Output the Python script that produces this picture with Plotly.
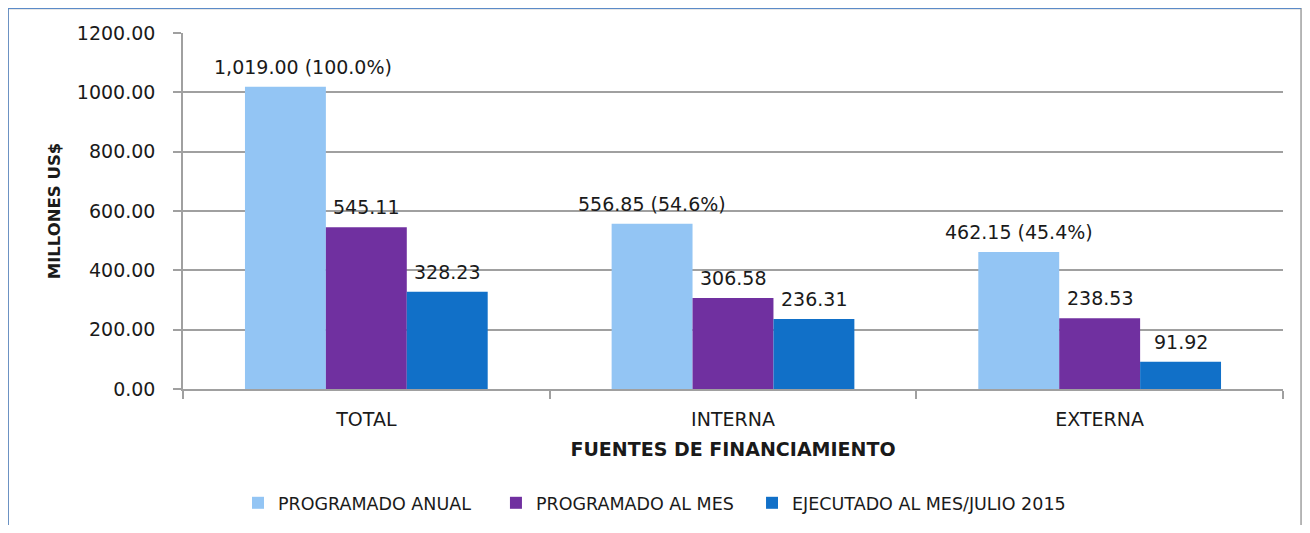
import plotly.graph_objects as go

categories = ["TOTAL", "INTERNA", "EXTERNA"]
series_names = ["PROGRAMADO ANUAL", "PROGRAMADO AL MES", "EJECUTADO AL MES/JULIO 2015"]
programado_anual = [1019.00, 556.85, 462.15]
programado_mes = [545.11, 306.58, 238.53]
ejecutado_mes = [328.23, 236.31, 91.92]
colors = ["#93C5F4", "#7030A0", "#1170C8"]
y_ticks = [0, 200, 400, 600, 800, 1000, 1200]

FONT = "DejaVu Sans"
series = [programado_anual, programado_mes, ejecutado_mes]
bargap = 0.338
legend_ids = ["legend", "legend2", "legend3"]
legend_x = [0.05, 0.2845, 0.5173]

fig = go.Figure()
for name, vals, col, lg in zip(series_names, series, colors, legend_ids):
    fig.add_trace(go.Bar(x=categories, y=vals, name=name, legend=lg,
                         marker=dict(color=col, line=dict(width=0))))

total = programado_anual[0]
w = (1 - bargap) / 3
annotations = []
for i, vals in enumerate(series):
    for j, v in enumerate(vals):
        if i == 0:
            txt = f"{v:,.2f} ({v / total * 100:.1f}%)"
        else:
            txt = f"{v:,.2f}"
        annotations.append(dict(
            x=j + (i - 1) * w, y=v, xref="x", yref="y", text=txt, showarrow=False,
            yanchor="bottom", xanchor="center", yshift=7,
            xshift=18 if (i == 0 and j == 0) else 0,
            font=dict(family=FONT, size=19, color="#1a1a1a")))

legend_common = dict(orientation="h", xanchor="left", y=-0.32, yanchor="middle",
                     font=dict(family=FONT, size=17.5, color="#1a1a1a"), itemwidth=30,
                     bgcolor="rgba(0,0,0,0)")

fig.update_layout(
    width=1294, height=517,
    margin=dict(l=175, r=19, t=25, b=136, autoexpand=False),
    paper_bgcolor="white", plot_bgcolor="white",
    barmode="group", bargap=bargap, bargroupgap=0,
    font=dict(family=FONT, size=19, color="#1a1a1a"),
    annotations=annotations,
    showlegend=True,
    legend=dict(x=legend_x[0], **legend_common),
    legend2=dict(x=legend_x[1], **legend_common),
    legend3=dict(x=legend_x[2], **legend_common),
    xaxis=dict(
        tickson="boundaries", ticks="outside", ticklen=8, tickcolor="#A0A0A0", tickwidth=1.5,
        showline=True, linecolor="#A0A0A0", linewidth=1.5, showgrid=False,
        ticklabelstandoff=12, automargin=False,
        tickfont=dict(family=FONT, size=19, color="#1a1a1a"),
        title=dict(text="<b>FUENTES DE FINANCIAMIENTO</b>", standoff=14,
                   font=dict(family=FONT, size=19, color="#1a1a1a")),
    ),
    yaxis=dict(
        range=[0, 1200], tickvals=y_ticks, tickformat=".2f",
        ticks="outside", ticklen=8, tickcolor="#A0A0A0", tickwidth=1.5,
        showline=True, linecolor="#A0A0A0", linewidth=1.5,
        showgrid=True, gridcolor="#A0A0A0", gridwidth=1.5, zeroline=False,
        ticklabelstandoff=14, automargin=False,
        tickfont=dict(family=FONT, size=19, color="#1a1a1a"),
        title=dict(text="<b>MILLONES US$</b>", standoff=12,
                   font=dict(family=FONT, size=16.5, color="#1a1a1a")),
    ),
    shapes=[
        dict(type="rect", xref="paper", yref="paper", x0=-0.159, x1=1.0164, y0=-0.5, y1=1.069,
             line=dict(color="#A0A0A0", width=1.5), layer="above"),
        dict(type="line", xref="paper", yref="paper", x0=-0.1595, x1=1.0164, y0=1.071, y1=1.071,
             line=dict(color="#5B8BC8", width=2.5), layer="above"),
        dict(type="line", xref="paper", yref="paper", x0=-0.1595, x1=-0.1595, y0=-0.5, y1=1.071,
             line=dict(color="#5B8BC8", width=2.5), layer="above"),
    ],
)

fig.write_html("out.html")
